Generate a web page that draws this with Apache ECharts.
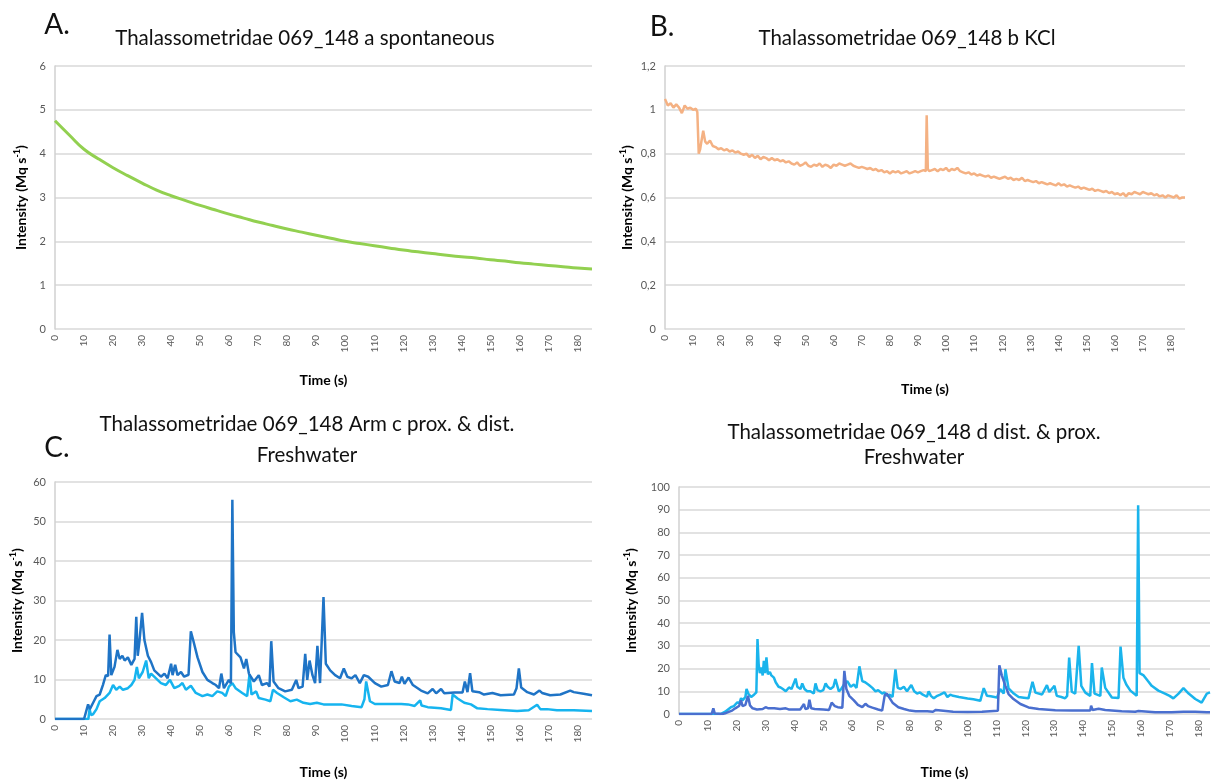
<!DOCTYPE html>
<html>
<head>
<meta charset="utf-8">
<script src="https://cdn.jsdelivr.net/npm/echarts@6.0.0/dist/echarts.min.js"></script>
<style>
  html, body { margin: 0; padding: 0; background: #fff; }
  #chart { width: 1212px; height: 780px; }
</style>
</head>
<body>
<div id="chart"></div>
<script>
// panel A - spontaneous
var aTime = [0, 5, 10, 15, 20, 25, 30, 35, 40, 45, 50, 55, 60, 65, 70, 75, 80, 85, 90, 95,
  100, 105, 110, 115, 120, 125, 130, 135, 140, 145, 150, 155, 160, 165, 170, 175, 180, 185];
var aIntensity = [4.75, 4.42, 4.10, 3.88, 3.68, 3.50, 3.33, 3.17, 3.04, 2.93, 2.82, 2.72, 2.62, 2.53, 2.44, 2.36, 2.28, 2.21, 2.14, 2.07,
  2.00, 1.95, 1.90, 1.85, 1.80, 1.76, 1.72, 1.68, 1.65, 1.62, 1.58, 1.55, 1.51, 1.48, 1.45, 1.42, 1.39, 1.37];

// panel B - KCl
var bTime = [0, 1, 2, 3, 4, 5, 6, 7, 8, 9, 10, 11, 11.5, 12, 12.5, 13, 13.6, 14.3, 15, 16, 17, 18, 19,
  20, 21, 22, 23, 24, 25, 26, 27, 28, 29, 30, 31, 32, 33, 34, 35, 36, 37, 38, 39,
  40, 41, 42, 43, 44, 45, 46, 47, 48, 49, 50, 51, 52, 53, 54, 55, 56, 57, 58, 59,
  60, 61, 62, 63, 64, 65, 66, 67, 68, 69, 70, 71, 72, 73, 74, 75, 76, 77, 78, 79,
  80, 81, 82, 83, 84, 85, 86, 87, 88, 89, 90, 91, 92, 92.8, 93.1, 93.5, 94, 95, 96, 97, 98, 99,
  100, 101, 102, 103, 104, 105, 106, 107, 108, 109, 110, 111, 112, 113, 114, 115, 116, 117, 118, 119,
  120, 121, 122, 123, 124, 125, 126, 127, 128, 129, 130, 131, 132, 133, 134, 135, 136, 137, 138, 139,
  140, 141, 142, 143, 144, 145, 146, 147, 148, 149, 150, 151, 152, 153, 154, 155, 156, 157, 158, 159,
  160, 161, 162, 163, 164, 165, 166, 167, 168, 169, 170, 171, 172, 173, 174, 175, 176, 177, 178, 179,
  180, 181, 182, 183, 184, 185];
var bIntensity = [1.05, 1.02, 1.03, 1.01, 1.025, 1.01, 0.985, 1.02, 1.005, 1.01, 1.0, 1.005, 0.99, 0.80, 0.82, 0.86, 0.905, 0.855, 0.845, 0.86, 0.835, 0.83, 0.82,
  0.825, 0.815, 0.82, 0.81, 0.815, 0.805, 0.81, 0.80, 0.795, 0.80, 0.785, 0.795, 0.78, 0.79, 0.775, 0.785, 0.78, 0.77, 0.78, 0.77,
  0.775, 0.765, 0.77, 0.76, 0.765, 0.755, 0.75, 0.76, 0.745, 0.75, 0.76, 0.745, 0.74, 0.75, 0.745, 0.755, 0.74, 0.75, 0.745, 0.735,
  0.75, 0.745, 0.755, 0.75, 0.745, 0.75, 0.755, 0.745, 0.74, 0.735, 0.74, 0.735, 0.73, 0.735, 0.725, 0.73, 0.72, 0.725, 0.715, 0.72,
  0.71, 0.72, 0.715, 0.72, 0.71, 0.715, 0.72, 0.71, 0.715, 0.72, 0.715, 0.72, 0.725, 0.72, 0.975, 0.73, 0.72, 0.725, 0.73, 0.72, 0.73, 0.725,
  0.735, 0.72, 0.73, 0.725, 0.735, 0.72, 0.715, 0.71, 0.715, 0.705, 0.71, 0.70, 0.705, 0.70, 0.695, 0.70, 0.69, 0.695, 0.69, 0.685,
  0.69, 0.695, 0.685, 0.69, 0.68, 0.685, 0.68, 0.69, 0.675, 0.68, 0.675, 0.67, 0.675, 0.665, 0.67, 0.665, 0.66, 0.665, 0.66, 0.655,
  0.665, 0.655, 0.66, 0.65, 0.655, 0.65, 0.645, 0.65, 0.64, 0.645, 0.64, 0.635, 0.64, 0.63, 0.635, 0.63, 0.625, 0.63, 0.62, 0.625,
  0.615, 0.62, 0.61, 0.62, 0.605, 0.62, 0.615, 0.625, 0.62, 0.615, 0.625, 0.62, 0.615, 0.62, 0.61, 0.615, 0.605, 0.61, 0.60, 0.61,
  0.605, 0.60, 0.61, 0.595, 0.60, 0.60];

// panel C - arm c, freshwater (dark and light traces)
var cDarkTime = [0, 10, 10.6, 11.4, 12, 12.6, 13.4, 14.3, 15.4, 16.5, 17.5, 18.3, 18.8, 19.4, 20.5, 21.5, 22.3, 23.2, 24, 25.1,
  26.3, 27.4, 28, 28.5, 29.1, 30, 30.8, 32, 33.1, 34.2, 35.4, 36.5, 37.7, 38.8, 40, 40.5, 41.4, 42.2, 43.4, 44.5,
  46, 46.8, 47.6, 49.1, 50.8, 52.5, 54.2, 55.4, 56.5, 57.3, 58.2, 59.9, 60.6, 61.1, 61.6, 62.2, 63.9, 65.1, 65.9, 66.8,
  68.5, 70.2, 71.3, 73, 73.9, 74.5, 75.3, 77, 79.3, 81.6, 83.1, 83.9, 85.3, 86.2, 86.9, 87.7, 88.7, 89.6, 90.4, 91.3,
  92.5, 93.3, 94.8, 96.5, 98.2, 99.5, 100.7, 102.2, 103.5, 105, 106.4, 107.9, 110.2, 112.4, 114.7, 115.9, 117, 118.7, 119.5, 120.4,
  121.8, 123.3, 123.9, 126.1, 128.4, 130.1, 131.3, 133, 134.1, 137.6, 140.4, 141.2, 142.1, 143, 143.8, 146.1, 147.8, 150.7, 153.5, 158.1,
  159, 159.8, 160.6, 162.7, 165, 166.9, 167.8, 170.6, 174.1, 177.5, 178.7, 182.1, 185];
var cDark = [0, 0, 0.3, 3.7, 2.5, 3, 4.5, 5.8, 6.2, 8.6, 11.1, 10.9, 21.4, 11.1, 13.2, 17.5, 15.2, 16, 14.8, 15.6,
  13.7, 15.2, 25.9, 16, 19.7, 26.9, 20, 16, 14.4, 12.3, 11.5, 10.7, 11.5, 10.3, 14, 11.1, 13.7, 11.1, 11.9, 10.7,
  11.2, 22.2, 20, 15.6, 11.9, 9.9, 9.1, 8.6, 7.8, 11.5, 7.8, 9.9, 9, 55.5, 22, 16.9, 15.6, 12.8, 15.2, 11.5,
  9.5, 11.1, 8.6, 9.1, 8.2, 19.7, 9.5, 7.8, 7, 7.4, 9.9, 7.8, 8.2, 16.5, 9.9, 14.8, 11.1, 9.1, 18.5, 9.1,
  30.9, 14, 12.3, 11.1, 10.3, 12.8, 10.7, 10.3, 11.1, 9.1, 11.1, 10.7, 9.1, 8.2, 8.6, 12.1, 9.5, 9.1, 10.7, 8.9,
  10.5, 8.6, 8.4, 7.2, 6.5, 7.6, 6.5, 7.6, 6.5, 6.7, 6.7, 9.5, 6.8, 11.6, 7, 6.8, 6.2, 6.6, 6, 6.2,
  7.8, 12.8, 8, 6.8, 6.2, 7.2, 6.6, 6, 6.2, 7.2, 6.8, 6.4, 6];
var cLightTime = [0, 11.5, 11.9, 12.4, 13.1, 14.3, 15.4, 17.1, 18.8, 20, 21.1, 22.3, 23.4, 25.1, 26.3, 27.4, 28.2, 28.9, 30.2, 31.4,
  32.3, 33.1, 34.8, 36.5, 38.2, 39.6, 41.1, 42.8, 43.9, 45.1, 46.8, 48.5, 50.8, 52.5, 54.2, 55.9, 57.6, 58.8, 59.9, 61.1,
  62.2, 64.5, 66.2, 67, 67.7, 69.3, 70.2, 72.5, 74.2, 75.1, 76.5, 78.8, 81.1, 83.3, 85.6, 87.9, 90.2, 92.5, 95.3, 98.7,
  102.2, 105.6, 106.6, 107.2, 108.5, 110.2, 114.7, 119.3, 121.6, 123.9, 125.8, 126.3, 128.4, 133, 136.4, 137, 138.7, 141, 143.3, 145.5,
  149, 153.5, 159.2, 163.2, 166.1, 167.2, 169.5, 172.9, 178.7, 185];
var cLight = [0, 0, 2.5, 1, 1.2, 2.5, 4.5, 5.3, 6.6, 8.6, 7.4, 8.2, 7.4, 7.8, 8.6, 9.9, 13.2, 10.3, 11.9, 14.8,
  10.3, 11.5, 10.3, 9.1, 8.6, 9.9, 7.8, 8.4, 9.1, 7.4, 8.4, 6.6, 5.8, 6.2, 5.8, 7, 6.6, 5.8, 8.2, 9.1,
  7.8, 6.6, 5.8, 11.3, 6.2, 7, 5.3, 4.9, 4.5, 7.4, 6.6, 5.5, 4.5, 4.9, 4.1, 3.8, 4.1, 3.7, 3.7, 3.7,
  3.3, 3, 5, 9.5, 4.5, 3.8, 3.8, 3.8, 3.7, 3.3, 4.7, 3.4, 3, 2.7, 2.3, 6.2, 5.2, 4.1, 3.7, 2.7,
  2.5, 2.3, 2, 2.2, 3.6, 2.5, 2.5, 2.2, 2.2, 2];

// panel D - d dist. & prox., freshwater (dark and light traces)
var dDarkTime = [0, 11.3, 11.9, 12.4, 15, 16, 17, 18.4, 19.5, 20.8, 21.5, 22, 23, 23.9, 24.6, 25.5, 27, 29, 30, 31,
  33, 35, 37, 38, 40, 42, 43.3, 43.8, 44.7, 45.2, 45.8, 47, 50, 52, 52.9, 54, 55, 56.6, 57.3, 58,
  59, 60.6, 62, 63.5, 64.6, 65.5, 67, 69, 70.4, 71.3, 72, 73, 74, 75, 76, 78, 80, 82, 85, 85.5,
  86, 88, 89, 89.5, 95, 100, 105, 110.5, 111, 111.9, 113.1, 114.2, 115.9, 118.3, 121.1, 124.6, 130.4, 136.1, 142.5, 142.8,
  143.3, 145.4, 147.7, 153.4, 158.1, 159.2, 165, 170.7, 174.8, 178.9, 182.9, 184];
var dDark = [0, 0, 2.5, 0.2, 0, 0.3, 0.8, 1.5, 2.5, 3.5, 6, 3.5, 4, 8, 3.8, 2.5, 2, 2.2, 3, 2.5,
  2.5, 2.2, 2.5, 2, 2, 2, 4.4, 2.2, 2.5, 6.3, 2.5, 2.2, 2, 1.8, 5, 3.5, 3, 2.8, 19, 11,
  8, 6, 4, 3, 4.5, 3.5, 2.8, 2, 1.5, 8.3, 9, 7, 5, 4, 3, 2.2, 1.5, 1.2, 1.2, 1.8,
  1.2, 1, 1.8, 1, 1, 0.9, 1, 1.4, 21.5, 16.8, 12.4, 8.8, 6.6, 4.4, 2.9, 2.2, 1.7, 1.5, 1.5, 3.7,
  1.8, 2.3, 1.8, 1.2, 1, 1.3, 0.8, 0.8, 1, 1, 0.8, 0.8];
var dLightTime = [0, 14.4, 15, 16, 17, 18, 19, 20.2, 21, 21.5, 22, 23, 23.4, 24, 25, 26, 26.8, 27.2, 27.6, 28,
  28.5, 29, 29.4, 29.8, 30.3, 30.8, 31.5, 32, 32.9, 33.5, 34.5, 35.2, 36, 37, 38.1, 39, 40.4, 41, 41.5, 42.1,
  42.7, 43.5, 44.4, 45.5, 46.7, 47.3, 48, 49, 50, 50.8, 51.5, 52.5, 53.5, 54.2, 55.4, 56.2, 57.1, 58.3, 59.5, 60.6,
  61.5, 62.5, 63.5, 64.5, 65.8, 67, 68.1, 69, 70.4, 71.2, 72.1, 73, 74, 74.6, 75, 75.8, 76.8, 77.9, 79, 80.5,
  81.5, 82.5, 83.5, 84.5, 85.9, 86.5, 87.3, 88.3, 89.5, 90.5, 91.1, 92, 93, 94, 95, 97, 100, 102, 104.4, 105.6,
  106.7, 108, 110.2, 111.3, 112.5, 113.1, 114.2, 116, 117.7, 119.5, 121.1, 122.5, 123.5, 125.8, 127.5, 128.3, 130.1, 130.9, 132.5, 133.8,
  134.5, 135.2, 136.1, 137.3, 138.5, 139.4, 140.8, 142.5, 143.1, 144, 146, 146.5, 147.7, 150, 152.3, 153, 154, 155, 156.4, 158.6,
  159.1, 159.6, 161, 162.5, 163.8, 166.1, 168.4, 170, 171.3, 173.1, 174.8, 176.6, 178.9, 181.1, 181.7, 182.9, 184];
var dLight = [0, 0, 0.5, 1, 2, 3, 3.5, 5.1, 5, 7, 6, 7.5, 11, 9, 7.5, 8.5, 9.5, 33, 22, 18,
  20.5, 17, 23.4, 18, 24.9, 17.5, 18.5, 17, 16, 14, 12, 11.7, 11, 10, 11.7, 11, 15.6, 12, 12.5, 11,
  13.5, 11, 10, 10, 9, 13.5, 10.5, 10, 10.5, 13.5, 12, 11, 12, 15.4, 10, 11, 12.8, 14.5, 12, 13,
  11.5, 21, 14.5, 14, 12.8, 11.5, 10, 10.5, 9, 9.5, 8, 8.5, 7.5, 8, 19.7, 11.5, 11, 12, 10, 12.8,
  10, 9, 9.5, 8.5, 7.6, 10, 8, 6.9, 8, 8.5, 8, 9.5, 7.5, 8.5, 8, 7.5, 6.8, 6.5, 5.8, 11.4,
  8, 7.8, 7.3, 11, 9, 19.7, 11.3, 9, 7.5, 7.2, 6.9, 14.2, 9.4, 8.6, 12.7, 9.7, 12.4, 8, 7.5, 6.9,
  8, 24.9, 9.8, 9, 30, 12.4, 9.4, 8, 22.4, 9, 8, 20.5, 11.5, 7.3, 7, 29.7, 16, 13, 10.3, 8,
  92, 18, 17, 14.5, 12.4, 10.3, 9, 8, 6.9, 9, 11.4, 9, 6.6, 5, 5.4, 9, 9.5];

var FONT = 'Lato, "Open Sans", sans-serif';
var GRID_GRAY = '#d9d9d9';
var LABEL_GRAY = '#595959';

function pairs(ts, vs) {
  return ts.map(function (t, i) { return [t, vs[i]]; });
}

function xAxisFor(gi, max, gap) {
  return {
    type: 'value', gridIndex: gi, min: 0, max: max, interval: 10,
    name: 'Time (s)', nameLocation: 'middle', nameGap: gap,
    nameTextStyle: { fontFamily: FONT, fontWeight: 'bold', fontSize: 14, color: '#000' },
    axisLine: { show: false },
    axisTick: { show: false },
    splitLine: { show: false },
    axisLabel: {
      rotate: 90, fontSize: 10, color: LABEL_GRAY, margin: 6, fontFamily: FONT,
      showMaxLabel: false,
      formatter: function (v) { return v % 10 === 0 ? String(v) : ''; }
    }
  };
}

function yAxisFor(gi, max, step, gap, fmt) {
  return {
    type: 'value', gridIndex: gi, min: 0, max: max, interval: step,
    name: 'Intensity (Mq s{sup|-1})', nameLocation: 'middle', nameGap: gap, nameRotate: 90,
    nameTextStyle: {
      fontFamily: FONT, fontWeight: 'bold', fontSize: 14, color: '#000', lineHeight: 17,
      rich: { sup: { fontFamily: FONT, fontWeight: 'bold', fontSize: 9, color: '#000', verticalAlign: 'top', lineHeight: 17 } }
    },
    axisLine: { show: true, lineStyle: { color: '#d0d0d0', width: 1.5 } },
    axisTick: { show: false },
    axisLabel: { fontSize: 11, color: LABEL_GRAY, margin: 9, fontFamily: FONT, formatter: fmt },
    splitLine: { lineStyle: { color: GRID_GRAY, width: 1.5 } }
  };
}

function line(name, gi, data, color, width) {
  return {
    name: name, type: 'line', xAxisIndex: gi, yAxisIndex: gi,
    data: data, showSymbol: false, symbol: 'none',
    lineStyle: { color: color, width: width }, itemStyle: { color: color }
  };
}

function label(text, x, y, size, lh) {
  return {
    type: 'text', x: x, y: y, silent: true,
    style: {
      text: text, fill: '#111', fontFamily: FONT, fontSize: size, lineHeight: lh || size,
      align: 'center', verticalAlign: 'middle', textAlign: 'center', textVerticalAlign: 'middle'
    }
  };
}

var myChart = echarts.init(document.getElementById('chart'));
myChart.setOption({
  animation: false,
  backgroundColor: '#fff',
  grid: [
    { left: 55, top: 66, width: 537, height: 263 },
    { left: 665, top: 66, width: 520, height: 263 },
    { left: 55, top: 482, width: 537, height: 243 },
    { left: 679, top: 487, width: 531, height: 228 }
  ],
  xAxis: [
    xAxisFor(0, 185, 44),
    xAxisFor(1, 185, 53),
    xAxisFor(2, 185, 46),
    xAxisFor(3, 184, 51)
  ],
  yAxis: [
    yAxisFor(0, 6, 1, 25),
    yAxisFor(1, 1.2, 0.2, 29),
    yAxisFor(2, 60, 10, 29),
    yAxisFor(3, 100, 10, 39)
  ].map(function (ax, i) {
    if (i === 1) {
      ax.axisLabel.formatter = function (v) { return String(+v.toFixed(1)).replace('.', ','); };
    }
    return ax;
  }),
  graphic: [
    label('A.', 57, 25, 28),
    label('B.', 662, 27, 28),
    label('C.', 57, 448, 28),
    label('Thalassometridae 069_148 a spontaneous', 305, 38, 20.5),
    label('Thalassometridae 069_148 b KCl', 907, 38, 20.5),
    label('Thalassometridae 069_148 Arm c prox. & dist.\nFreshwater', 307, 440, 20.5, 31),
    label('Thalassometridae 069_148 d dist. & prox.\nFreshwater', 914, 445, 20.5, 25)
  ],
  series: [
    Object.assign(line('a', 0, pairs(aTime, aIntensity), '#92d050', 3), { smooth: true }),
    line('b', 1, pairs(bTime, bIntensity), '#f4b183', 2.5),
    line('c light', 2, pairs(cLightTime, cLight), '#16b4ef', 2.5),
    line('c dark', 2, pairs(cDarkTime, cDark), '#1f74c6', 2.5),
    line('d light', 3, pairs(dLightTime, dLight), '#1ab4ec', 2.5),
    line('d dark', 3, pairs(dDarkTime, dDark), '#4a6fcf', 2.5)
  ]
});
</script>
</body>
</html>
